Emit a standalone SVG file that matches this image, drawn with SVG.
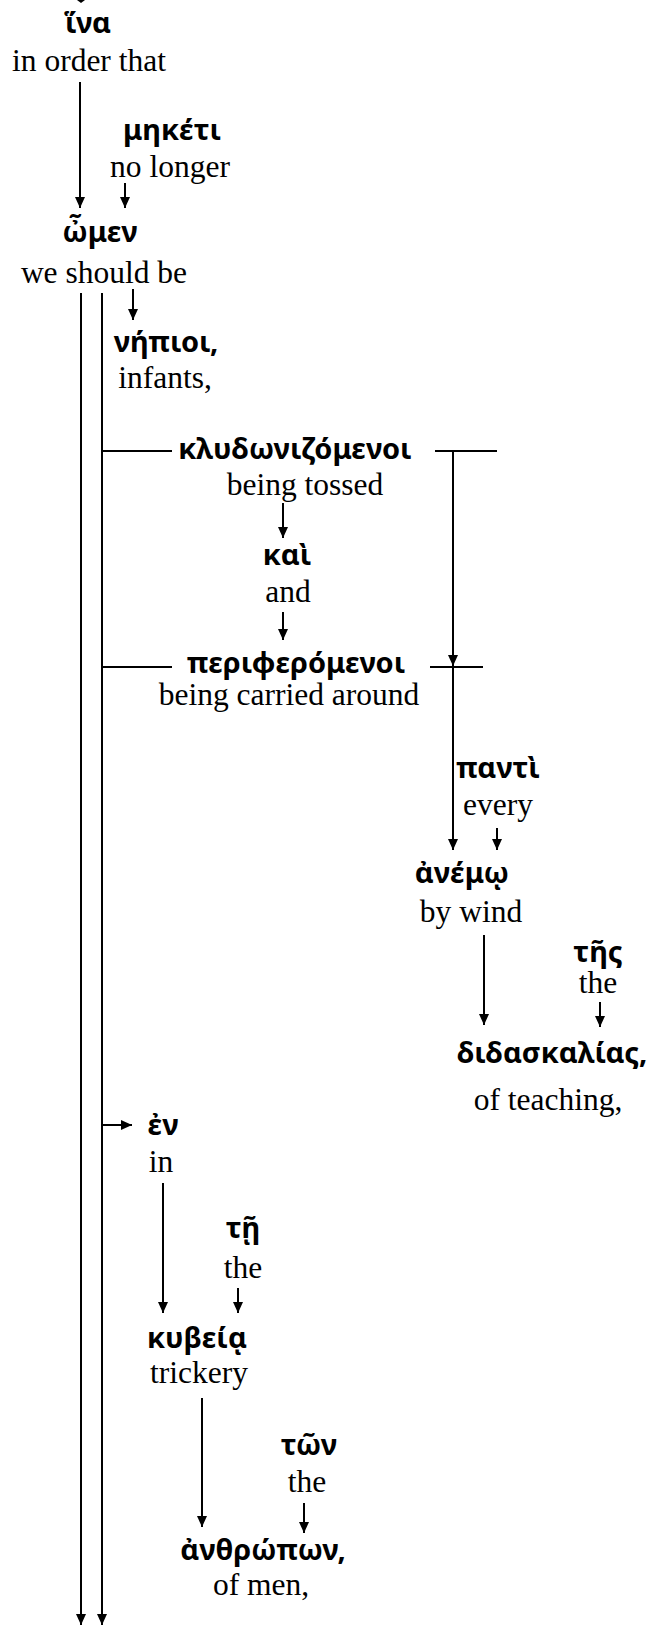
<svg xmlns="http://www.w3.org/2000/svg" width="656" height="1627" viewBox="0 0 656 1627">
<style>
.g{font-family:"Noto Sans","DejaVu Sans",sans-serif;font-weight:bold;font-size:29px;text-anchor:middle;fill:#000}
.e{font-family:"Liberation Serif","Times New Roman",serif;font-size:31.5px;text-anchor:middle;fill:#000}
.c line{stroke:#000;stroke-width:2;fill:none}
</style>
<defs>
<marker id="ah" markerUnits="userSpaceOnUse" markerWidth="12" markerHeight="12" refX="11" refY="5" orient="auto">
<path d="M0,0 L11,5 L0,10 Z" fill="#000"/>
</marker>
</defs>
<rect width="656" height="1627" fill="#fff"/>
<g id="connectors" class="c">
<polygon points="77,0 85,0 81,3" fill="#000"/>
<line x1="80" y1="82" x2="80" y2="208" marker-end="url(#ah)"/>
<line x1="125" y1="183" x2="125" y2="208" marker-end="url(#ah)"/>
<line x1="133" y1="289" x2="133" y2="320" marker-end="url(#ah)"/>
<line x1="81" y1="293" x2="81" y2="1625" marker-end="url(#ah)"/>
<line x1="102" y1="293" x2="102" y2="1625" marker-end="url(#ah)"/>
<line x1="102" y1="451" x2="172" y2="451"/>
<line x1="435" y1="451" x2="497" y2="451"/>
<line x1="453" y1="451" x2="453" y2="666" marker-end="url(#ah)"/>
<line x1="453" y1="666" x2="453" y2="850" marker-end="url(#ah)"/>
<line x1="102" y1="667" x2="172" y2="667"/>
<line x1="430" y1="667" x2="483" y2="667"/>
<line x1="283" y1="503" x2="283" y2="538" marker-end="url(#ah)"/>
<line x1="283" y1="612" x2="283" y2="640" marker-end="url(#ah)"/>
<line x1="497" y1="828" x2="497" y2="850" marker-end="url(#ah)"/>
<line x1="484" y1="935" x2="484" y2="1025" marker-end="url(#ah)"/>
<line x1="600" y1="1002" x2="600" y2="1027" marker-end="url(#ah)"/>
<line x1="102" y1="1125" x2="132" y2="1125" marker-end="url(#ah)"/>
<line x1="163" y1="1183" x2="163" y2="1313" marker-end="url(#ah)"/>
<line x1="238" y1="1288" x2="238" y2="1313" marker-end="url(#ah)"/>
<line x1="202" y1="1398" x2="202" y2="1527" marker-end="url(#ah)"/>
<line x1="304" y1="1503" x2="304" y2="1533" marker-end="url(#ah)"/>
</g>
<g id="n-ina"><text class="g" x="88" y="33">ἵνα</text><text class="e" x="89" y="71">in order that</text></g>
<g id="n-mketi"><text class="g" x="172" y="140">μηκέτι</text><text class="e" x="170" y="177">no longer</text></g>
<g id="n-omen"><text class="g" x="100" y="242">ὦμεν</text><text class="e" x="104" y="283">we should be</text></g>
<g id="n-nepioi"><text class="g" x="166" y="352">νήπιοι,</text><text class="e" x="165" y="388">infants,</text></g>
<g id="n-klydon"><text class="g" x="295" y="459">κλυδωνιζόμενοι</text><text class="e" x="305" y="495">being tossed</text></g>
<g id="n-kai"><text class="g" x="287" y="565">καὶ</text><text class="e" x="288" y="602">and</text></g>
<g id="n-peri"><text class="g" x="296" y="673">περιφερόμενοι</text><text class="e" x="289" y="705">being carried around</text></g>
<g id="n-panti"><text class="g" x="498" y="778">παντὶ</text><text class="e" x="498" y="815">every</text></g>
<g id="n-anemo"><text class="g" x="462" y="883">ἀνέμῳ</text><text class="e" x="471" y="922">by wind</text></g>
<g id="n-tes"><text class="g" x="598" y="962">τῆς</text><text class="e" x="598" y="993">the</text></g>
<g id="n-didask"><text class="g" x="552" y="1063">διδασκαλίας,</text><text class="e" x="548" y="1110">of teaching,</text></g>
<g id="n-en"><text class="g" x="163" y="1135">ἐν</text><text class="e" x="161" y="1172">in</text></g>
<g id="n-te"><text class="g" x="243" y="1238">τῇ</text><text class="e" x="243" y="1278">the</text></g>
<g id="n-kybeia"><text class="g" x="197" y="1348">κυβείᾳ</text><text class="e" x="199" y="1383">trickery</text></g>
<g id="n-ton"><text class="g" x="309" y="1455">τῶν</text><text class="e" x="307" y="1492">the</text></g>
<g id="n-anthropon"><text class="g" x="263" y="1560">ἀνθρώπων,</text><text class="e" x="261" y="1595">of men,</text></g>
</svg>
